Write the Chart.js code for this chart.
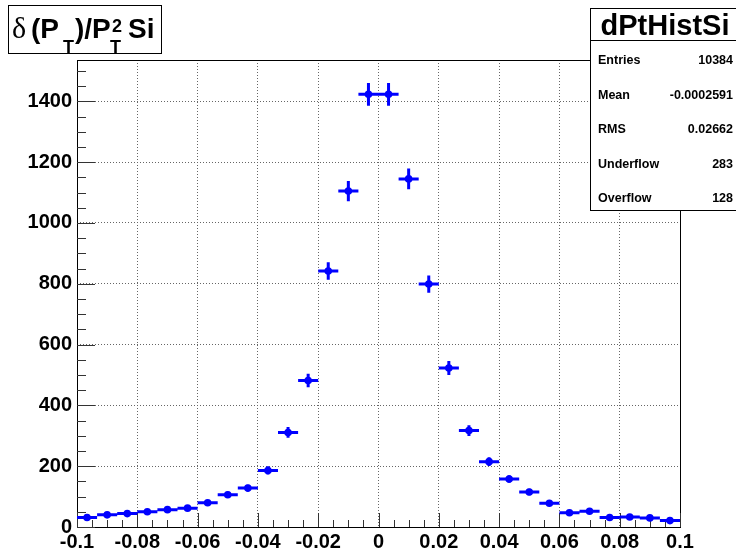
<!DOCTYPE html>
<html>
<head>
<meta charset="utf-8">
<script src="https://cdn.jsdelivr.net/npm/chart.js@4.4.0/dist/chart.umd.min.js"></script>
<style>
html, body { margin: 0; padding: 0; background: #fff; }
#wrap { width: 736px; height: 553px; }
</style>
</head>
<body>
<div id="wrap"><canvas id="myChart" width="736" height="553"></canvas></div>
<script>
// bin centres of dPtHistSi (30 bins from -0.1 to 0.1)
const binCenters = [-0.09667, -0.09, -0.08333, -0.07667, -0.07, -0.06333, -0.05667, -0.05, -0.04333, -0.03667,
	-0.03, -0.02333, -0.01667, -0.01, -0.00333, 0.00333, 0.01, 0.01667, 0.02333, 0.03,
	0.03667, 0.04333, 0.05, 0.05667, 0.06333, 0.07, 0.07667, 0.08333, 0.09, 0.09667];
const binHalfWidth = 0.003333;
const counts = [31, 40, 44, 50, 57, 62, 80, 106, 128, 186,
	311, 482, 842, 1105, 1423, 1423, 1145, 799, 523, 317,
	215, 158, 115, 78, 47, 52, 31, 33, 30, 21];
const countErrors = [5.6, 6.3, 6.6, 7.1, 7.5, 7.9, 8.9, 10.3, 11.3, 13.6,
	17.6, 22.0, 29.0, 33.2, 37.7, 37.7, 33.8, 28.3, 22.9, 17.8,
	14.7, 12.6, 10.7, 8.8, 6.9, 7.2, 5.6, 5.7, 5.5, 4.6];

const xTicks = [-0.1, -0.08, -0.06, -0.04, -0.02, 0, 0.02, 0.04, 0.06, 0.08, 0.1];
const xTickLabels = ['-0.1', '-0.08', '-0.06', '-0.04', '-0.02', '0', '0.02', '0.04', '0.06', '0.08', '0.1'];
const yTicks = [0, 200, 400, 600, 800, 1000, 1200, 1400];

const statNames = ['Entries', 'Mean', 'RMS', 'Underflow', 'Overflow'];
const statValues = ['10384', '-0.0002591', '0.02662', '283', '128'];

const BLUE = 'rgb(0, 0, 255)';
const labelFont = { family: '"Liberation Sans", Arial, sans-serif', size: 20, weight: 'bold' };

const points = binCenters.map((c, i) => ({ x: c, y: counts[i] }));

// frame, inner ticks and error bars, drawn ROOT style
const rootPlugin = {
	id: 'rootStyle',
	beforeDatasetsDraw(chart) {
		const ctx = chart.ctx;
		const a = chart.chartArea;
		const xs = chart.scales.x, ys = chart.scales.y;
		ctx.save();
		ctx.strokeStyle = '#000';
		ctx.lineWidth = 1;
		ctx.setLineDash([]);
		ctx.strokeRect(Math.round(a.left) + 0.5, Math.round(a.top) + 0.5,
			Math.round(a.right - a.left), Math.round(a.bottom - a.top));

		// y ticks: major each 200, minor each 50
		ctx.strokeStyle = '#333';
		ctx.beginPath();
		for (let v = 0; v <= ys.max; v += 50) {
			const py = Math.round(ys.getPixelForValue(v)) + 0.5;
			const len = (v % 200 === 0) ? 18 : 9;
			ctx.moveTo(a.left, py);
			ctx.lineTo(a.left + len, py);
		}
		// x ticks: major each 0.02, minor each 0.005
		for (let k = 0; k <= 40; k++) {
			const v = -0.1 + k * 0.005;
			const px = Math.round(xs.getPixelForValue(v)) + 0.5;
			const len = (k % 4 === 0) ? 14 : 7;
			ctx.moveTo(px, a.bottom);
			ctx.lineTo(px, a.bottom - len);
		}
		ctx.stroke();

		// error bars
		ctx.strokeStyle = BLUE;
		ctx.lineWidth = 3;
		ctx.beginPath();
		binCenters.forEach((c, i) => {
			const px = xs.getPixelForValue(c);
			const py = ys.getPixelForValue(counts[i]);
			ctx.moveTo(xs.getPixelForValue(c - binHalfWidth), py);
			ctx.lineTo(xs.getPixelForValue(c + binHalfWidth), py);
			ctx.moveTo(px, ys.getPixelForValue(counts[i] - countErrors[i]));
			ctx.lineTo(px, ys.getPixelForValue(counts[i] + countErrors[i]));
		});
		ctx.stroke();
		ctx.restore();
	},
	afterDraw(chart) {
		const ctx = chart.ctx;
		ctx.save();
		ctx.setLineDash([]);
		ctx.lineWidth = 1;
		ctx.strokeStyle = '#000';
		ctx.fillStyle = '#000';

		// title box
		ctx.fillStyle = '#fff';
		ctx.fillRect(8.5, 5.5, 153, 48);
		ctx.strokeRect(8.5, 5.5, 153, 48);
		ctx.fillStyle = '#000';
		ctx.textBaseline = 'alphabetic';
		ctx.textAlign = 'left';
		ctx.font = '30px "Liberation Serif", serif';
		ctx.fillText('\u03b4', 12, 38);
		ctx.font = 'bold 28px "Liberation Sans", Arial, sans-serif';
		ctx.fillText('(P', 31, 38);
		ctx.fillText(')/P', 75, 38);
		ctx.fillText('Si', 128, 38);
		ctx.font = 'bold 18px "Liberation Sans", Arial, sans-serif';
		ctx.fillText('T', 63, 53);
		ctx.fillText('T', 110, 53);
		ctx.font = 'bold 18px "Liberation Sans", Arial, sans-serif';
		ctx.fillText('2', 112, 32);

		// stats box
		ctx.fillStyle = '#fff';
		ctx.fillRect(590.5, 8.5, 150, 202);
		ctx.strokeRect(590.5, 8.5, 150, 202);
		ctx.beginPath();
		ctx.moveTo(590, 40.5);
		ctx.lineTo(736, 40.5);
		ctx.stroke();
		ctx.fillStyle = '#000';
		ctx.font = 'bold 29px "Liberation Sans", Arial, sans-serif';
		ctx.textAlign = 'center';
		ctx.fillText('dPtHistSi', 665, 35);
		ctx.font = 'bold 12.5px "Liberation Sans", Arial, sans-serif';
		statNames.forEach((n, i) => {
			const by = 64 + i * 34.5;
			ctx.textAlign = 'left';
			ctx.fillText(n, 598, by);
			ctx.textAlign = 'right';
			ctx.fillText(statValues[i], 733, by);
		});
		ctx.restore();
	}
};

const config = {
	type: 'scatter',
	data: {
		datasets: [{
			label: 'dPtHistSi',
			data: points,
			pointRadius: 3.8,
			pointHoverRadius: 3.8,
			pointBorderWidth: 0,
			backgroundColor: BLUE,
			borderColor: BLUE
		}]
	},
	options: {
		responsive: false,
		animation: false,
		layout: { padding: { top: 60, right: 56, left: 0, bottom: 0 } },
		plugins: {
			legend: { display: false },
			tooltip: { enabled: false }
		},
		scales: {
			x: {
				type: 'linear',
				min: -0.1,
				max: 0.1,
				afterBuildTicks: s => { s.ticks = xTicks.map(v => ({ value: v })); },
				afterFit: s => { s.height = 26; },
				ticks: {
					autoSkip: false,
					maxRotation: 0,
					padding: 3,
					color: '#000',
					font: labelFont,
					callback: (v, i) => xTickLabels[i]
				},
				grid: { color: '#666', lineWidth: 1, drawTicks: false },
				border: { display: false, dash: [1, 2] }
			},
			y: {
				type: 'linear',
				min: 0,
				max: 1536,
				afterBuildTicks: s => { s.ticks = yTicks.map(v => ({ value: v })); },
				afterFit: s => { s.width = 77; },
				ticks: {
					autoSkip: false,
					padding: 5,
					color: '#000',
					font: labelFont,
					callback: v => String(v)
				},
				grid: { color: '#666', lineWidth: 1, drawTicks: false },
				border: { display: false, dash: [1, 2] }
			}
		}
	},
	plugins: [rootPlugin]
};

const myChart = new Chart(document.getElementById('myChart'), config);
</script>
</body>
</html>
